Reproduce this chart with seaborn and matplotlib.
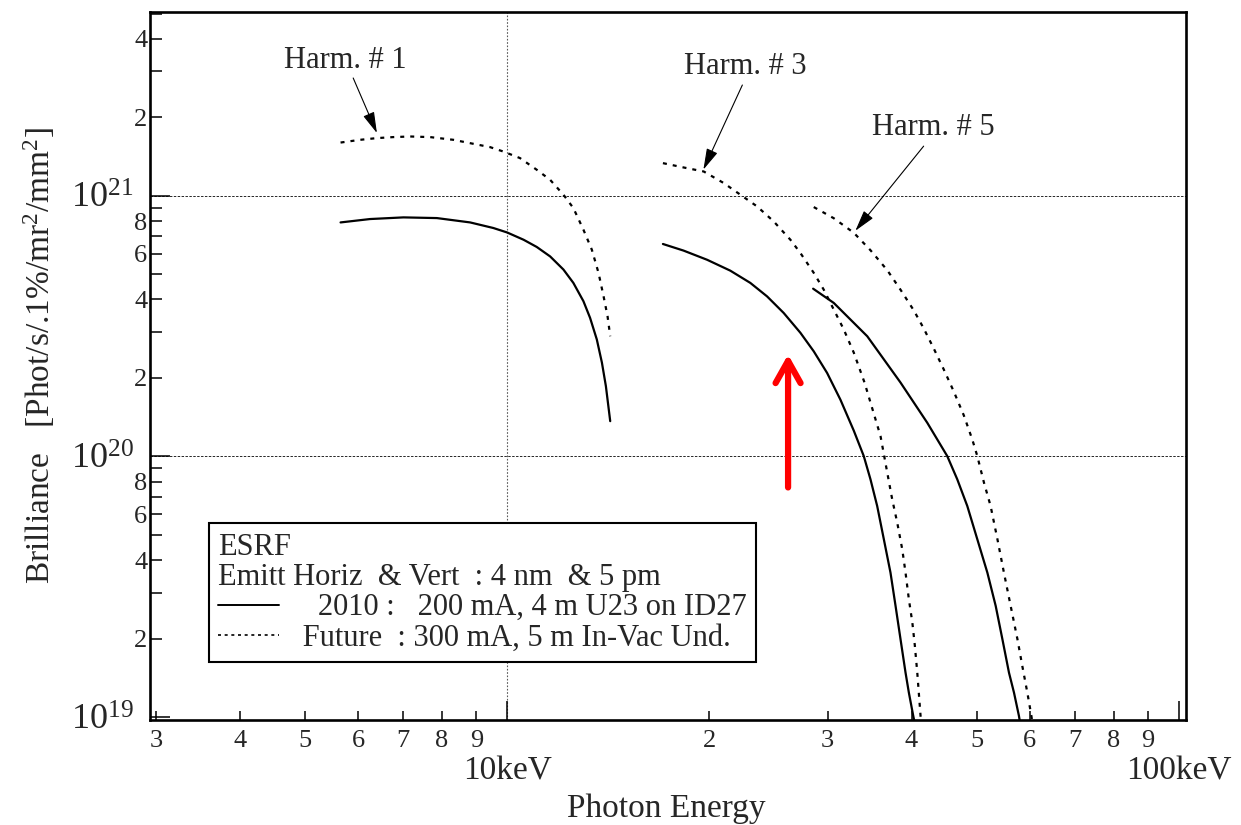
import math
import matplotlib
matplotlib.use("Agg")
import matplotlib.pyplot as plt
import seaborn as sns
import pandas as pd
from matplotlib.lines import Line2D
from matplotlib.ticker import FixedLocator, FuncFormatter

# brilliance values are in units of 1e20 Phot/s/.1%/mr2/mm2, energies in keV
SCALE = 1e20

h1_2010_e = [5.65, 6.25, 7.01, 7.86, 8.81, 9.54, 10.0, 10.58, 11.07, 11.59, 12.13, 12.55,
             12.99, 13.29, 13.60, 13.84, 14.03, 14.24]
h1_2010_b = [7.90, 8.14, 8.26, 8.21, 7.90, 7.52, 7.23, 6.78, 6.36, 5.85, 5.21, 4.63,
             3.94, 3.40, 2.81, 2.29, 1.86, 1.365]
h1_fut_e = [5.65, 6.04, 6.40, 6.77, 7.17, 7.68, 8.32, 8.91, 9.43, 9.87, 10.45, 11.07, 11.59,
            12.13, 12.55, 12.99, 13.37, 13.68, 13.92, 14.11, 14.24]
h1_fut_b = [16.00, 16.39, 16.64, 16.79, 16.88, 16.79, 16.39, 15.82, 15.37, 14.78, 13.95, 12.58,
            11.51, 10.09, 8.97, 7.41, 6.21, 5.06, 4.11, 3.45, 2.89]

h3_2010_e = [17.06, 18.31, 19.85, 21.49, 23.02, 24.38, 25.81, 27.33, 28.61, 29.95, 31.35,
             32.82, 33.96, 34.75, 35.56, 36.38, 37.22, 37.87, 38.52, 39.19, 39.64, 40.24, 40.40]
h3_2010_b = [6.53, 6.16, 5.68, 5.16, 4.63, 4.11, 3.55, 2.98, 2.53, 2.09, 1.65,
             1.255, 1.003, 0.817, 0.645, 0.481, 0.358, 0.267, 0.199, 0.148, 0.124, 0.101, 0.096]
h3_fut_e = [17.06, 18.31, 19.62, 21.01, 22.25, 23.56, 24.94, 26.41, 27.33, 28.61, 29.61, 30.64,
            31.71, 32.82, 34.05, 35.97, 36.81, 37.44, 38.09, 38.75, 39.19, 39.64, 40.11, 40.46,
            40.80, 41.26, 41.36]
h3_fut_b = [13.34, 12.84, 12.39, 11.19, 10.09, 9.10, 7.97, 6.78, 6.03, 5.06, 4.36, 3.66,
            3.07, 2.50, 1.92, 1.196, 0.866, 0.684, 0.557, 0.440, 0.358, 0.283, 0.231, 0.188,
            0.148, 0.101, 0.096]

h5_2010_e = [28.55, 30.64, 34.37, 38.52, 42.22, 45.21, 46.79, 48.43,
             50.12, 51.88, 53.38, 54.62, 55.87, 56.84, 57.81, 58.00]
h5_2010_b = [4.40, 3.88, 2.89, 1.92, 1.346, 1.003, 0.817, 0.645,
             0.481, 0.358, 0.267, 0.199, 0.148, 0.124, 0.101, 0.096]
h5_fut_e = [28.61, 30.64, 32.82, 34.75, 36.81, 38.52, 40.32, 41.73, 43.18, 44.68, 46.24, 47.86,
            49.26, 50.12, 51.28, 52.46, 53.70, 54.91, 56.19, 57.51, 58.48, 59.50, 60.33, 60.50]
h5_fut_b = [9.05, 8.20, 7.21, 6.18, 5.18, 4.36, 3.63, 3.09, 2.59, 2.155, 1.774, 1.436,
            1.162, 1.003, 0.793, 0.645, 0.481, 0.358, 0.267, 0.199, 0.157, 0.124, 0.101, 0.096]

curves = [
    ("H1", "2010", h1_2010_e, h1_2010_b),
    ("H1", "Future", h1_fut_e, h1_fut_b),
    ("H3", "2010", h3_2010_e, h3_2010_b),
    ("H3", "Future", h3_fut_e, h3_fut_b),
    ("H5", "2010", h5_2010_e, h5_2010_b),
    ("H5", "Future", h5_fut_e, h5_fut_b),
]

# annotation labels: (text, text pos, arrow tail, arrow tip) in keV / 1e20 units
harm_labels = ["Harm. # 1", "Harm. # 3", "Harm. # 5"]
harm_text_xy = [(5.74, 32.9), (22.6, 31.2), (43.1, 18.2)]
harm_tail_xy = [(5.90, 28.3), (22.4, 26.6), (41.7, 15.5)]
harm_tip_xy = [(6.40, 17.4), (19.6, 12.6), (33.0, 7.34)]

red_arrow_e = 26.2
red_arrow_b = (0.76, 2.46)

legend_title = "ESRF\nEmitt Horiz  & Vert  : 4 nm  & 5 pm"
legend_entries = ["   2010 :   200 mA, 4 m U23 on ID27", " Future  : 300 mA, 5 m In-Vac Und."]

sns.set_style("ticks")
plt.rcParams["font.family"] = ["Liberation Serif", "DejaVu Serif"]
plt.rcParams["mathtext.fontset"] = "custom"
plt.rcParams["mathtext.rm"] = "Liberation Serif"
plt.rcParams["mathtext.it"] = "Liberation Serif:italic"

fig = plt.figure(figsize=(12.41, 8.25), dpi=100)
ax = fig.add_axes([150 / 1241, 105 / 825, 1036 / 1241, 708 / 825])
ax.set_xscale("log")
ax.set_yscale("log")

rows = []
for harm, cfg, es, bs in curves:
    for e, b in zip(es, bs):
        rows.append({"harm": harm, "cfg": cfg, "energy": e, "brill": b * SCALE})
df = pd.DataFrame(rows)

dot_style = (0, (1.8, 2.7))
for (harm, cfg), sub in df.groupby(["harm", "cfg"], sort=False):
    sns.lineplot(data=sub, x="energy", y="brill", estimator=None, sort=False,
                 color="black", lw=1.6, ax=ax, legend=False,
                 linestyle="-" if cfg == "2010" else dot_style)

ax.set_xlim(2.94, 102.5)
ax.set_ylim(0.974e19, 5.07e21)

# reference grid lines
ax.axvline(10, color="0.35", lw=0.8, ls=(0, (1.5, 1.5)), zorder=0)
for yv in (1e20, 1e21):
    ax.axhline(yv, color="0.15", lw=0.7, ls=(0, (2.5, 1.5)), zorder=0)

# x ticks
ax.xaxis.set_major_locator(FixedLocator([10, 100]))
ax.xaxis.set_major_formatter(FuncFormatter(lambda v, p: "%dkeV" % round(v)))
minor_x = [3, 4, 5, 6, 7, 8, 9, 20, 30, 40, 50, 60, 70, 80, 90]
ax.xaxis.set_minor_locator(FixedLocator(minor_x))
ax.xaxis.set_minor_formatter(FuncFormatter(lambda v, p: str(int(round(v / (10 if v >= 10 else 1))))))

# y ticks
ax.yaxis.set_major_locator(FixedLocator([1e19, 1e20, 1e21]))
ax.yaxis.set_major_formatter(FuncFormatter(lambda v, p: r"$10^{%d}$" % round(math.log10(v))))
minor_y = [m * d for d in (1e19, 1e20, 1e21) for m in range(2, 10)]
ax.yaxis.set_minor_locator(FixedLocator(minor_y))


def ymin_fmt(v, p):
    m = int(round(v / 10 ** math.floor(math.log10(v) + 1e-9)))
    return str(m) if m in (2, 4, 6, 8) else ""


ax.yaxis.set_minor_formatter(FuncFormatter(ymin_fmt))

ax.tick_params(which="both", direction="in", top=False, right=False, color="black", width=1.1)
ax.tick_params(axis="x", which="major", length=13.5, pad=26, labelsize=24)
ax.tick_params(axis="x", which="minor", length=6.5, pad=7, labelsize=19)
ax.tick_params(axis="y", which="major", length=14.5, pad=12, labelsize=26)
ax.tick_params(axis="y", which="minor", length=8.5, pad=2, labelsize=19)

for s in ax.spines.values():
    s.set_linewidth(1.9)
    s.set_color("black")

ax.set_xlabel("Photon Energy", fontsize=24)
ax.xaxis.set_label_coords(0.498, -0.104)
ax.set_ylabel("Brilliance   [Phot/s/.1%/mr$^2$/mm$^2$]", fontsize=24)
ax.yaxis.set_label_coords(-0.09, 0.515)

# harmonic labels with arrows
for lab, txy, tail, tip in zip(harm_labels, harm_text_xy, harm_tail_xy, harm_tip_xy):
    ax.text(txy[0], txy[1] * SCALE, lab, fontsize=22, ha="center", va="center")
    ax.annotate("", xy=(tip[0], tip[1] * SCALE), xytext=(tail[0], tail[1] * SCALE),
                arrowprops=dict(arrowstyle="-|>,head_length=0.65,head_width=0.18",
                                mutation_scale=20, color="black", lw=0.8, shrinkA=0, shrinkB=0))

# red arrow
ax.annotate("", xy=(red_arrow_e, red_arrow_b[1] * SCALE), xytext=(red_arrow_e, red_arrow_b[0] * SCALE),
            arrowprops=dict(arrowstyle="->,head_length=0.8,head_width=0.45", mutation_scale=20,
                            color="#ff0000", lw=4.5, shrinkA=0, shrinkB=0,
                            capstyle="round", joinstyle="round"))

handles = [Line2D([], [], color="black", lw=1.4, ls="-"),
           Line2D([], [], color="black", lw=1.2, ls=(0, (1.8, 2.2)))]
leg = ax.legend(handles, legend_entries, title=legend_title, alignment="left",
                loc="lower left", bbox_to_anchor=(0.057, 0.082), borderaxespad=0,
                fontsize=22, title_fontsize=22, frameon=True, fancybox=False,
                edgecolor="black", framealpha=1, borderpad=0.3, labelspacing=0.05,
                handlelength=2.0, handletextpad=0.5)
leg.get_frame().set_linewidth(1.5)
leg.get_title().set_linespacing(1.05)

fig.savefig("out.png", dpi=100)
